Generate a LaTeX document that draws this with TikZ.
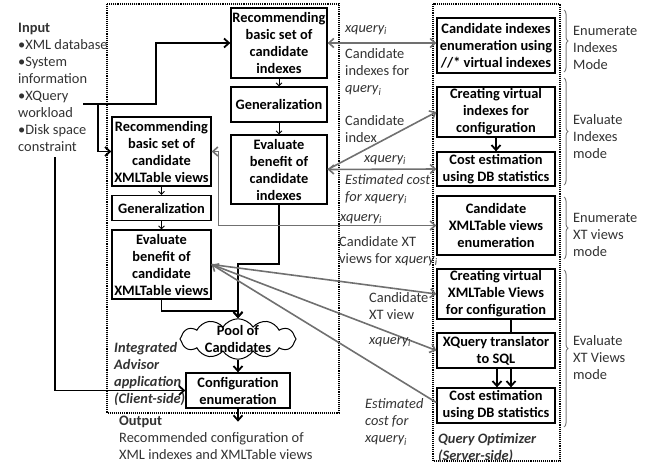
\documentclass[tikz,border=0pt]{standalone}
\usepackage{fontspec}
\setmainfont{Carlito}
\usepackage{tikz}
\usetikzlibrary{arrows.meta,shapes.symbols,decorations.pathreplacing}
\definecolor{linkgray}{RGB}{112,112,112}
\definecolor{bracegray}{RGB}{125,125,125}
\definecolor{textgray}{RGB}{50,50,50}

\begin{document}
\begin{tikzpicture}
		[x=1pt,y=-1pt,
		every node/.style={font=\fontsize{14.4}{17}\selectfont,inner sep=0pt},
		>={Straight Barb[length=5pt,width=9pt]},
		box/.style={draw,line width=1.3pt,align=center,font=\fontsize{14.4}{17}\selectfont\bfseries},
		thin flow/.style={line width=0.8pt,-{Straight Barb[length=3pt,width=6pt]}},
		flow/.style={line width=1.8pt,->},
		link/.style={draw=linkgray,line width=1.6pt},
		lbl/.style={anchor=west,align=left,text=textgray},
		ilbl/.style={lbl,font=\fontsize{14.4}{17}\selectfont\itshape},
		mode/.style={draw=bracegray,line width=1pt,decorate,decoration={brace,amplitude=4pt}}]
		\useasboundingbox (0,0) rectangle (662,466);
		\draw[densely dotted,line width=1.1pt] (107,4) rectangle (339,413);
		\draw[densely dotted,line width=1.1pt] (433,4) rectangle (560,461);
		\node[box,minimum width=96pt,minimum height=70pt] (recidx) at (279,43) {Recommending\\basic set of\\candidate\\indexes};
		\node[box,minimum width=96pt,minimum height=35pt] (genidx) at (279,104.5) {Generalization};
		\node[box,minimum width=96pt,minimum height=69pt] (evalidx) at (279,169.5) {Evaluate\\benefit of\\candidate\\indexes};
		\node[box,minimum width=99pt,minimum height=69pt] (recxt) at (161.5,151.5) {Recommending\\basic set of\\candidate\\XMLTable views};
		\node[box,minimum width=99pt,minimum height=25pt] (genxt) at (161.5,208) {Generalization};
		\node[box,minimum width=99pt,minimum height=69pt] (evalxt) at (161.5,264.5) {Evaluate\\benefit of\\candidate\\XMLTable views};
		\node[cloud,draw,line width=1pt,cloud puffs=12,cloud puff arc=115,aspect=2.9,inner xsep=-3pt,inner ysep=-6pt,minimum width=116pt,minimum height=40pt,align=center,font=\fontsize{14.4}{17}\selectfont\bfseries] (pool) at (238,339) {Pool of\\Candidates};
		\node[box,minimum width=104pt,minimum height=35pt] (config) at (238,390.5) {Configuration\\enumeration};
		\node[box,minimum width=118pt,minimum height=55pt] (candenum) at (496,45.5) {Candidate indexes\\enumeration using\\//* virtual indexes};
		\node[box,minimum width=118pt,minimum height=50pt] (virtidx) at (496,112) {Creating virtual\\indexes for\\configuration};
		\node[box,minimum width=118pt,minimum height=34pt] (costidx) at (496,169) {Cost estimation\\using DB statistics};
		\node[box,minimum width=118pt,minimum height=59pt] (xtenum) at (496,225.5) {Candidate\\XMLTable views\\enumeration};
		\node[box,minimum width=118pt,minimum height=50pt] (virtxt) at (496,294) {Creating virtual\\XMLTable Views\\for configuration};
		\node[box,minimum width=118pt,minimum height=35pt] (xlate) at (496,350.5) {XQuery translator\\to SQL};
		\node[box,minimum width=118pt,minimum height=35pt] (costxt) at (496,405.5) {Cost estimation\\using DB statistics};
		\node[anchor=north west,align=left,text=textgray] (input) at (18,23) {\textbf{Input}\\•XML database\\•System\\information\\•XQuery\\workload\\•Disk space\\constraint};
		\node[anchor=north west,align=left,text=textgray,font=\fontsize{14.4}{17}\selectfont\bfseries\itshape] (advisor) at (114,342) {Integrated\\Advisor\\application\\(Client-side)};
		\node[anchor=north west,align=left,text=textgray] (output) at (119,416) {\textbf{Output}\\Recommended configuration of\\XML indexes and XMLTable views};
		\node[anchor=north west,align=left,text=textgray,font=\fontsize{14.4}{17}\selectfont\bfseries\itshape] (optimizer) at (438,433) {Query Optimizer\\(Server-side)};
		\coordinate (wl) at (83,104);
		\coordinate (disk) at (55,157);
		\draw[flow] (wl) -- ++(73,0) |- (recidx.west);
		\draw[flow] ([xshift=15pt]wl) |- (recxt.west);
		\draw[flow] (disk) |- (config.west);
		\draw[thin flow] (recidx) -- (genidx);
		\draw[thin flow] (genidx) -- (evalidx);
		\draw[thin flow] (recxt) -- (genxt);
		\draw[thin flow] (genxt) -- (evalxt);
		\draw[flow] (evalidx.south) -- ++(0,59) -| (pool.north);
		\draw[flow] (evalxt.south) -- ++(0,11) -| (pool.north);
		\draw[flow] (pool) -- (config);
		\draw[flow] (config.south) -- ++(0,13);
		\draw[flow] (virtidx) -- (costidx);
		\draw[line width=1.8pt] ([xshift=15pt]virtxt.south) -- ([xshift=15pt]xlate.north);
		\draw[flow] ([xshift=1pt]xlate.south) -- ([xshift=1pt]costxt.north);
		\draw[flow] ([xshift=15pt]xlate.south) -- ([xshift=15pt]costxt.north);
		\draw[link,<->] (recidx.east) -- (recidx.east -| candenum.west);
		\draw[link,->] (evalidx.east) -- (virtidx.west);
		\draw[link,<->] (evalidx.east) -- (costidx.west);
		\draw[link,<->] (recxt.east) -- ++(7,0) |- (xtenum.west);
		\draw[link,->] (evalxt.east) -- (virtxt.west);
		\draw[link,->] (evalxt.east) -- (xlate.west);
		\draw[link,<-] (evalxt.east) -- ([yshift=3pt]costxt.west);
		\node[ilbl] (q1) at (345,30) {xquery\textsubscript{i}};
		\node[lbl] (ci1) at (345,72) {Candidate\\indexes for\\\textit{query}\textsubscript{\textit{i}}};
		\node[lbl] (ci2) at (345,129.5) {Candidate\\index};
		\node[ilbl] (q2) at (364,160) {xquery\textsubscript{i}};
		\node[ilbl] (ec1) at (345,189) {Estimated cost\\for xquery\textsubscript{i}};
		\node[ilbl] (q3) at (340,219) {xquery\textsubscript{i}};
		\node[lbl] (cx1) at (339,251) {Candidate XT\\views for x\textit{query}\textsubscript{\textit{i}}};
		\node[lbl] (cx2) at (369,306) {Candidate\\XT view};
		\node[ilbl] (q4) at (369,342) {xquery\textsubscript{i}};
		\node[ilbl] (ec2) at (365,422) {Estimated\\cost for\\xquery\textsubscript{i}};
		\draw[mode] (564,10) -- (564,72);
		\draw[mode] (564,78) -- (564,185);
		\draw[mode] (564,197) -- (564,259);
		\draw[mode] (564,270) -- (564,427);
		\node[lbl] (m1) at (573,48) {Enumerate\\Indexes\\Mode};
		\node[lbl] (m2) at (573,137) {Evaluate\\Indexes\\mode};
		\node[lbl] (m3) at (573,235) {Enumerate\\XT views\\mode};
		\node[lbl] (m4) at (573,358) {Evaluate\\XT Views\\mode};
		\end{tikzpicture}
\end{document}
